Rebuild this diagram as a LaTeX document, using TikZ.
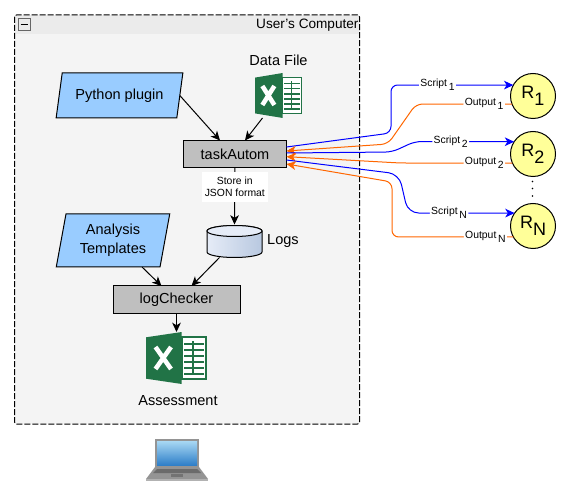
\documentclass[tikz,border=0pt]{standalone}
\usepackage{fontspec}
\setmainfont{Liberation Sans}
\usetikzlibrary{arrows.meta,shapes.geometric}
\definecolor{panelgray}{HTML}{F4F4F4}
\definecolor{bandgray}{HTML}{EBEBEB}
\definecolor{boxgray}{HTML}{BFBFBF}
\definecolor{planblue}{HTML}{99CCFF}
\definecolor{robotyellow}{HTML}{FFFF99}
\definecolor{sheetgreen}{HTML}{217346}
\definecolor{scriptblue}{HTML}{0000FF}
\definecolor{outputorange}{HTML}{FF6600}
\definecolor{screentop}{HTML}{A8D8F4}
\definecolor{screenbot}{HTML}{2F7FC8}
\definecolor{dbleft}{HTML}{E6ECF7}
\definecolor{dbright}{HTML}{B8C8E0}
\newcommand{\subs}[1]{\,\raisebox{-3pt}{#1}}
\newcommand{\rsub}[1]{\raisebox{-5pt}{#1}}

\begin{document}
\begin{tikzpicture}[x=.75pt,y=-.75pt,
  every node/.style={outer sep=0pt},
  >={Stealth[length=7pt,width=6.5pt,inset=2pt]},
  boxnode/.style={draw,line width=.75pt,fill=boxgray,font=\fontsize{10.9pt}{12pt}\selectfont,minimum width=#1,minimum height=20.25pt},
  paranode/.style={draw,line width=.75pt,fill=planblue,trapezium,trapezium stretches=true,font=\fontsize{10.9pt}{14pt}\selectfont,align=center,inner sep=0pt},
  txtnode/.style={font=\fontsize{10.9pt}{12pt}\selectfont,inner sep=0pt},
  robotnode/.style={draw,line width=.75pt,circle,fill=robotyellow,minimum size=33.75pt,inner sep=0pt,font=\fontsize{13.5pt}{14pt}\selectfont},
  flowlabel/.style={fill=white,text=black,inner sep=1pt,font=\fontsize{7.8pt}{9pt}\selectfont},
  arrowline/.style={->,line width=.75pt},
  scriptline/.style={->,line width=.75pt,scriptblue,rounded corners=5pt},
  outputline/.style={->,line width=.75pt,outputorange,rounded corners=5pt},
  excelicon/.pic={
    \fill[sheetgreen] (0,5.3) -- (35.7,0) -- (35.7,52) -- (0,46.7) -- cycle;
    \draw[white,line width=3.4pt] (9.5,15) -- (25,37) (25,15) -- (9.5,37);
    \draw[sheetgreen,fill=white,line width=1.2pt] (35.7,5) rectangle (60,47);
    \foreach \rowy in {11,17,23,29,35,41}
      \fill[sheetgreen] (38,\rowy) rectangle (58,\rowy+2);
    \fill[sheetgreen] (46,9) rectangle (48,43);
  }]
\useasboundingbox (0,0) rectangle (568,499);

% user's computer panel
\node (computer) [fill=panelgray,rounded corners=1.5pt,minimum width=258.75pt,minimum height=306.75pt] at (187,219.5) {};
\fill[bandgray] (15,15.5) rectangle (359,34);
\draw[line width=.75pt,dash pattern=on 4.5pt off 1.5pt,rounded corners=1.5pt] (computer.north west) rectangle (computer.south east);
\node (collapse) [draw=black!60,fill=bandgray,line width=.5pt,minimum size=9pt,inner sep=0pt] at (24,24.5) {};
\draw[line width=1.2pt] (20.5,24.5) -- (27.5,24.5);
\node (computerTitle) [txtnode,font=\fontsize{10.2pt}{12pt}\selectfont,anchor=east] at (358.5,25) {User's Computer};

% inputs
\node (pythonPlugin) [paranode,inner xsep=-5.5pt,trapezium left angle=74,trapezium right angle=106,minimum width=95.25pt,minimum height=33.75pt] at (119.5,95.5) {Python plugin};
\node (dataTitle) [txtnode] at (278.5,60) {Data File};
\node (dataIcon) [minimum width=35.25pt,minimum height=33.75pt,inner sep=0pt] at (278.5,95.5) {};
\pic[xscale=.775,yscale=.865] at (255,73) {excelicon};

\node (taskAutom) [boxnode=77.25pt] at (235,154) {taskAutom};

\draw[arrowline] (pythonPlugin.east) -- ([xshift=-11.25pt]taskAutom.north);
\draw[arrowline] ([xshift=-12pt]dataIcon.south) -- ([xshift=7.5pt]taskAutom.north);

% logs
\node (logsDb) [minimum width=41.25pt,minimum height=24.75pt,inner sep=0pt] at (234.5,241) {};
\shade[left color=dbleft,right color=dbright,draw,line width=.75pt] (207,231) -- (207,252) arc (180:0:27.5 and 5.5) -- (262,231) arc (0:-180:27.5 and 5.5) -- cycle;
\draw[line width=.75pt,fill=dbleft] (234.5,231) ellipse (27.5 and 5.5);
\node (logsTitle) [txtnode] at (283,241) {Logs};
\draw[arrowline] (taskAutom.south) -- node[fill=white,inner sep=0pt,minimum width=49.5pt,minimum height=22.5pt,align=center,pos=.34,font=\fontsize{7.8pt}{9.5pt}\selectfont] (storeLabel) {Store in\\JSON format} (logsDb.north);

\node (analysisTemplates) [paranode,trapezium left angle=78,trapezium right angle=102,minimum width=85.5pt,minimum height=39.75pt] at (113,240.5) {Analysis\\Templates};
\node (logChecker) [boxnode=95.25pt] at (176.5,299.5) {logChecker};
\draw[arrowline] ([xshift=21.75pt]analysisTemplates.south) -- ([xshift=-11.25pt]logChecker.north);
\draw[arrowline] ([xshift=-11.25pt]logsDb.south) -- ([xshift=11.25pt]logChecker.north);

% assessment
\node (assessIcon) [minimum width=45.5pt,minimum height=39pt,inner sep=0pt] at (176.5,358) {};
\pic at (146,332) {excelicon};
\draw[arrowline] (logChecker.south) -- (assessIcon.north);
\node (assessTitle) [txtnode] at (178,401) {Assessment};

% laptop
\fill[black!42] (155,439) rectangle (199,467);
\shade[top color=screentop,bottom color=screenbot] (157,441) rectangle (197,465);
\fill[black!42] (155,467) -- (199,467) -- (208,479) -- (146,479) -- cycle;
\fill[black!58] (157,469) -- (197,469) -- (201,473) -- (153,473) -- cycle;
\fill[black!55] (171,474) rectangle (183,477);
\fill[black!30] (146,479) rectangle (208,481);

% robots
\node (R1) [robotnode] at (533,96) {R\rsub{1}};
\node (R2) [robotnode] at (533,154) {R\rsub{2}};
\node (RN) [robotnode] at (533,226) {R\rsub{N}};
\foreach \doty in {181.5,188.5,196}
  \fill (532.5,\doty) circle (.6pt);

\draw[scriptline] ([yshift=5.25pt]taskAutom.east) -- (391,133) -- (391,85) -- node[flowlabel,pos=.38] (script1) {Script\subs{1}} (R1.151);
\draw[outputline] (R1.201) -- node[flowlabel,pos=.29] (output1) {Output\subs{1}} (416,104) -- (388,144) -- ([yshift=2.25pt]taskAutom.east);
\draw[scriptline] ([yshift=.75pt]taskAutom.east) -- (392,152) -- (415,141.5) -- node[flowlabel,pos=.36] (script2) {Script\subs{2}} (R2.147);
\draw[outputline] (R2.204) -- node[flowlabel,pos=.25] (output2) {Output\subs{2}} (400,163) -- ([yshift=-2pt]taskAutom.east);
\draw[scriptline,rounded corners=8pt] ([yshift=-4.5pt]taskAutom.east) -- (399,174) -- (408,213) -- node[flowlabel,pos=.385] (scriptN) {Script\subs{N}} (RN.145);
\draw[outputline] (RN.209) -- node[flowlabel,pos=.23] (outputN) {Output\subs{N}} (392,237) -- (392,182) -- ([yshift=-7.5pt]taskAutom.east);
\end{tikzpicture}
\end{document}
